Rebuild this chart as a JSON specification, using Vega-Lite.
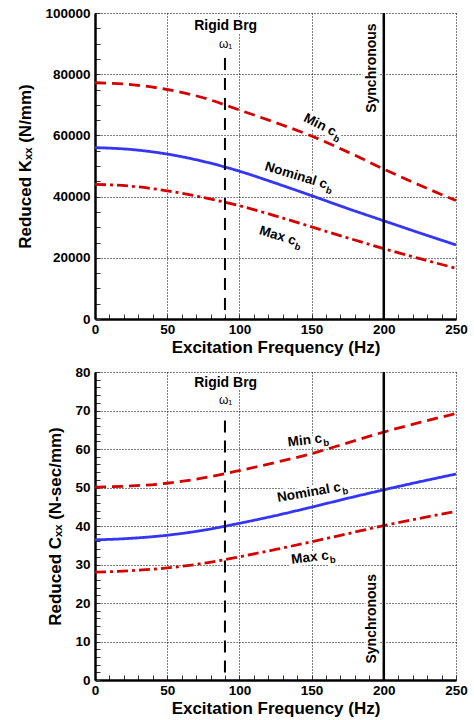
{
  "$schema": "https://vega.github.io/schema/vega-lite/v6.json",
  "background": "white",
  "padding": {"left": 16, "top": 6, "right": 8, "bottom": 5},
  "spacing": 9,
  "config": {
    "view": {"stroke": null},
    "font": "Liberation Sans",
    "axis": {
      "domainColor": "black", "domainWidth": 2.5,
      "gridColor": "black", "gridDash": [1, 2], "gridWidth": 1,
      "tickColor": "#333", "tickWidth": 1, "tickSize": -5,
      "labelFont": "Liberation Sans", "labelFontWeight": "bold", "labelFontSize": 13.5, "labelColor": "black",
      "titleFont": "Liberation Sans", "titleFontWeight": "bold", "titleFontSize": 17, "titleColor": "black",
      "labelFlush": false, "labelOverlap": false, "grid": true
    },
    "text": {"font": "Liberation Sans", "fontWeight": "bold", "color": "black"}
  },
  "datasets": {
    "k": [
      {"f": 0, "v": 77200, "s": "Min"}, {"f": 25, "v": 76600, "s": "Min"}, {"f": 50, "v": 75000, "s": "Min"}, {"f": 75, "v": 72300, "s": "Min"}, {"f": 100, "v": 68300, "s": "Min"}, {"f": 125, "v": 64200, "s": "Min"}, {"f": 150, "v": 59800, "s": "Min"}, {"f": 175, "v": 54600, "s": "Min"}, {"f": 200, "v": 49000, "s": "Min"}, {"f": 225, "v": 43700, "s": "Min"}, {"f": 250, "v": 38700, "s": "Min"},
      {"f": 0, "v": 56000, "s": "Nominal"}, {"f": 25, "v": 55400, "s": "Nominal"}, {"f": 50, "v": 53900, "s": "Nominal"}, {"f": 75, "v": 51500, "s": "Nominal"}, {"f": 100, "v": 48300, "s": "Nominal"}, {"f": 125, "v": 44400, "s": "Nominal"}, {"f": 150, "v": 40300, "s": "Nominal"}, {"f": 175, "v": 36100, "s": "Nominal"}, {"f": 200, "v": 32100, "s": "Nominal"}, {"f": 225, "v": 28100, "s": "Nominal"}, {"f": 250, "v": 24200, "s": "Nominal"},
      {"f": 0, "v": 44000, "s": "Max"}, {"f": 25, "v": 43400, "s": "Max"}, {"f": 50, "v": 41900, "s": "Max"}, {"f": 75, "v": 39700, "s": "Max"}, {"f": 100, "v": 37000, "s": "Max"}, {"f": 125, "v": 33700, "s": "Max"}, {"f": 150, "v": 30100, "s": "Max"}, {"f": 175, "v": 26500, "s": "Max"}, {"f": 200, "v": 23000, "s": "Max"}, {"f": 225, "v": 19700, "s": "Max"}, {"f": 250, "v": 16600, "s": "Max"}
    ],
    "c": [
      {"f": 0, "v": 50.1, "s": "Min"}, {"f": 25, "v": 50.4, "s": "Min"}, {"f": 50, "v": 51.1, "s": "Min"}, {"f": 75, "v": 52.5, "s": "Min"}, {"f": 100, "v": 54.4, "s": "Min"}, {"f": 125, "v": 56.5, "s": "Min"}, {"f": 150, "v": 58.8, "s": "Min"}, {"f": 175, "v": 61.6, "s": "Min"}, {"f": 200, "v": 64.4, "s": "Min"}, {"f": 225, "v": 66.9, "s": "Min"}, {"f": 250, "v": 69.2, "s": "Min"},
      {"f": 0, "v": 36.4, "s": "Nominal"}, {"f": 25, "v": 36.8, "s": "Nominal"}, {"f": 50, "v": 37.6, "s": "Nominal"}, {"f": 75, "v": 38.9, "s": "Nominal"}, {"f": 100, "v": 40.7, "s": "Nominal"}, {"f": 125, "v": 42.7, "s": "Nominal"}, {"f": 150, "v": 44.9, "s": "Nominal"}, {"f": 175, "v": 47.2, "s": "Nominal"}, {"f": 200, "v": 49.4, "s": "Nominal"}, {"f": 225, "v": 51.5, "s": "Nominal"}, {"f": 250, "v": 53.5, "s": "Nominal"},
      {"f": 0, "v": 28.0, "s": "Max"}, {"f": 25, "v": 28.4, "s": "Max"}, {"f": 50, "v": 29.1, "s": "Max"}, {"f": 75, "v": 30.3, "s": "Max"}, {"f": 100, "v": 32.0, "s": "Max"}, {"f": 125, "v": 33.9, "s": "Max"}, {"f": 150, "v": 35.9, "s": "Max"}, {"f": 175, "v": 38.0, "s": "Max"}, {"f": 200, "v": 40.1, "s": "Max"}, {"f": 225, "v": 42.0, "s": "Max"}, {"f": 250, "v": 43.8, "s": "Max"}
    ],
    "kplain": [{"f": 90.5, "v": 95750, "t": "Rigid Brg"}],
    "kw": [{"f": 90.5, "v": 89900, "t": "ω₁"}],
    "ksync": [{"f": 191.6, "v": 82000, "t": "Synchronous"}],
    "kmin": [{"f": 155.8, "v": 63400, "t": "Min c", "b": "b"}],
    "knom": [{"f": 139.2, "v": 46900, "t": "Nominal c", "b": "b"}],
    "kmax": [{"f": 126.5, "v": 27200, "t": "Max c", "b": "b"}],
    "cplain": [{"f": 90.5, "v": 77.1, "t": "Rigid Brg"}],
    "cw": [{"f": 90.5, "v": 72.8, "t": "ω₁"}],
    "csync": [{"f": 191.6, "v": 15.9, "t": "Synchronous"}],
    "cmin": [{"f": 145.4, "v": 62.2, "t": "Min c", "b": "b"}],
    "cnom": [{"f": 148.2, "v": 48.7, "t": "Nominal c", "b": "b"}],
    "cmax": [{"f": 148.9, "v": 31.8, "t": "Max c", "b": "b"}]
  },
  "vconcat": [
    {
      "width": 361, "height": 306,
      "encoding": {
        "x": {"field": "f", "type": "quantitative", "scale": {"domain": [0, 250], "nice": false, "zero": false},
          "axis": {"title": "Excitation Frequency (Hz)", "titlePadding": 4, "labelPadding": 8,
            "values": [0,10,20,30,40,50,60,70,80,90,100,110,120,130,140,150,160,170,180,190,200,210,220,230,240,250],
            "labelExpr": "datum.value % 50 === 0 ? datum.label : ''",
            "gridOpacity": {"condition": {"test": "datum.value % 50 === 0", "value": 1}, "value": 0}}},
        "y": {"field": "v", "type": "quantitative", "scale": {"domain": [0, 100000], "nice": false},
          "axis": {"title": "Reduced Kₓₓ (N/mm)", "titlePadding": 10, "labelPadding": 10, "format": "d",
            "values": [0,5000,10000,15000,20000,25000,30000,35000,40000,45000,50000,55000,60000,65000,70000,75000,80000,85000,90000,95000,100000],
            "labelExpr": "datum.value % 20000 === 0 ? datum.label : ''",
            "gridOpacity": {"condition": {"test": "datum.value % 20000 === 0", "value": 1}, "value": 0}}}
      },
      "layer": [
        {"data": {"name": "kplain"}, "mark": {"type": "text", "fontSize": 14, "baseline": "middle", "color": "white", "stroke": "white", "strokeWidth": 6}, "encoding": {"text": {"field": "t"}}},
        {"data": {"name": "kw"}, "mark": {"type": "text", "fontSize": 12, "fontWeight": "normal", "baseline": "middle", "color": "white", "stroke": "white", "strokeWidth": 6}, "encoding": {"text": {"field": "t"}}},
        {"data": {"name": "ksync"}, "mark": {"type": "text", "fontSize": 14, "angle": 270, "baseline": "middle", "color": "white", "stroke": "white", "strokeWidth": 5}, "encoding": {"text": {"field": "t"}}},
        {"data": {"name": "kmin"}, "layer": [
          {"mark": {"type": "text", "fontSize": 13.5, "angle": 27, "baseline": "middle", "color": "white", "stroke": "white", "strokeWidth": 6}, "encoding": {"text": {"field": "t"}}},
          {"mark": {"type": "text", "fontSize": 9.5, "angle": 27, "baseline": "middle", "align": "left", "dx": 18, "dy": 5, "color": "white", "stroke": "white", "strokeWidth": 6}, "encoding": {"text": {"field": "b"}}}]},
        {"data": {"name": "knom"}, "layer": [
          {"mark": {"type": "text", "fontSize": 13.5, "angle": 17, "baseline": "middle", "color": "white", "stroke": "white", "strokeWidth": 6}, "encoding": {"text": {"field": "t"}}},
          {"mark": {"type": "text", "fontSize": 9.5, "angle": 17, "baseline": "middle", "align": "left", "dx": 33, "dy": 5, "color": "white", "stroke": "white", "strokeWidth": 6}, "encoding": {"text": {"field": "b"}}}]},
        {"data": {"name": "kmax"}, "layer": [
          {"mark": {"type": "text", "fontSize": 13.5, "angle": 17, "baseline": "middle", "color": "white", "stroke": "white", "strokeWidth": 6}, "encoding": {"text": {"field": "t"}}},
          {"mark": {"type": "text", "fontSize": 9.5, "angle": 17, "baseline": "middle", "align": "left", "dx": 19.5, "dy": 5, "color": "white", "stroke": "white", "strokeWidth": 6}, "encoding": {"text": {"field": "b"}}}]},
        {
          "data": {"name": "k"},
          "mark": {"type": "line", "interpolate": "monotone", "strokeWidth": 2.8},
          "encoding": {
            "color": {"field": "s", "type": "nominal", "scale": {"domain": ["Min", "Nominal", "Max"], "range": ["#d40000", "#3535f5", "#d40000"]}, "legend": null},
            "strokeDash": {"field": "s", "type": "nominal", "scale": {"domain": ["Min", "Nominal", "Max"], "range": [[11, 6], [1, 0], [11, 4, 3, 4]]}, "legend": null}
          }
        },
        {
          "data": {"values": [{"f": 90, "v": 85300, "v2": 0}]},
          "mark": {"type": "rule", "color": "black", "strokeWidth": 2, "strokeDash": [12, 8]},
          "encoding": {"y2": {"field": "v2"}}
        },
        {
          "data": {"values": [{"f": 200, "v": 0, "v2": 100000}]},
          "mark": {"type": "rule", "color": "black", "strokeWidth": 2.5},
          "encoding": {"y2": {"field": "v2"}}
        },
        {"data": {"name": "kplain"}, "mark": {"type": "text", "fontSize": 14, "baseline": "middle"}, "encoding": {"text": {"field": "t"}}},
        {"data": {"name": "kw"}, "mark": {"type": "text", "fontSize": 12, "fontWeight": "normal", "baseline": "middle"}, "encoding": {"text": {"field": "t"}}},
        {"data": {"name": "ksync"}, "mark": {"type": "text", "fontSize": 14, "angle": 270, "baseline": "middle"}, "encoding": {"text": {"field": "t"}}},
        {"data": {"name": "kmin"}, "layer": [
          {"mark": {"type": "text", "fontSize": 13.5, "angle": 27, "baseline": "middle"}, "encoding": {"text": {"field": "t"}}},
          {"mark": {"type": "text", "fontSize": 9.5, "angle": 27, "baseline": "middle", "align": "left", "dx": 18, "dy": 5}, "encoding": {"text": {"field": "b"}}}]},
        {"data": {"name": "knom"}, "layer": [
          {"mark": {"type": "text", "fontSize": 13.5, "angle": 17, "baseline": "middle"}, "encoding": {"text": {"field": "t"}}},
          {"mark": {"type": "text", "fontSize": 9.5, "angle": 17, "baseline": "middle", "align": "left", "dx": 33, "dy": 5}, "encoding": {"text": {"field": "b"}}}]},
        {"data": {"name": "kmax"}, "layer": [
          {"mark": {"type": "text", "fontSize": 13.5, "angle": 17, "baseline": "middle"}, "encoding": {"text": {"field": "t"}}},
          {"mark": {"type": "text", "fontSize": 9.5, "angle": 17, "baseline": "middle", "align": "left", "dx": 19.5, "dy": 5}, "encoding": {"text": {"field": "b"}}}]}
      ]
    },
    {
      "width": 361, "height": 308,
      "encoding": {
        "x": {"field": "f", "type": "quantitative", "scale": {"domain": [0, 250], "nice": false, "zero": false},
          "axis": {"title": "Excitation Frequency (Hz)", "titlePadding": 4, "labelPadding": 8,
            "values": [0,10,20,30,40,50,60,70,80,90,100,110,120,130,140,150,160,170,180,190,200,210,220,230,240,250],
            "labelExpr": "datum.value % 50 === 0 ? datum.label : ''",
            "gridOpacity": {"condition": {"test": "datum.value % 50 === 0", "value": 1}, "value": 0}}},
        "y": {"field": "v", "type": "quantitative", "scale": {"domain": [0, 80], "nice": false},
          "axis": {"title": "Reduced Cₓₓ (N-sec/mm)", "titlePadding": 10, "labelPadding": 10, "format": "d",
            "values": [0,2,4,6,8,10,12,14,16,18,20,22,24,26,28,30,32,34,36,38,40,42,44,46,48,50,52,54,56,58,60,62,64,66,68,70,72,74,76,78,80],
            "labelExpr": "datum.value % 10 === 0 ? datum.label : ''",
            "gridOpacity": {"condition": {"test": "datum.value % 10 === 0", "value": 1}, "value": 0}}}
      },
      "layer": [
        {"data": {"name": "cplain"}, "mark": {"type": "text", "fontSize": 14, "baseline": "middle", "color": "white", "stroke": "white", "strokeWidth": 6}, "encoding": {"text": {"field": "t"}}},
        {"data": {"name": "cw"}, "mark": {"type": "text", "fontSize": 12, "fontWeight": "normal", "baseline": "middle", "color": "white", "stroke": "white", "strokeWidth": 6}, "encoding": {"text": {"field": "t"}}},
        {"data": {"name": "csync"}, "mark": {"type": "text", "fontSize": 14, "angle": 270, "baseline": "middle", "color": "white", "stroke": "white", "strokeWidth": 5}, "encoding": {"text": {"field": "t"}}},
        {"data": {"name": "cmin"}, "layer": [
          {"mark": {"type": "text", "fontSize": 13.5, "angle": -7, "baseline": "middle", "color": "white", "stroke": "white", "strokeWidth": 6}, "encoding": {"text": {"field": "t"}}},
          {"mark": {"type": "text", "fontSize": 9.5, "angle": -7, "baseline": "middle", "align": "left", "dx": 18, "dy": 5, "color": "white", "stroke": "white", "strokeWidth": 6}, "encoding": {"text": {"field": "b"}}}]},
        {"data": {"name": "cnom"}, "layer": [
          {"mark": {"type": "text", "fontSize": 13.5, "angle": -10, "baseline": "middle", "color": "white", "stroke": "white", "strokeWidth": 6}, "encoding": {"text": {"field": "t"}}},
          {"mark": {"type": "text", "fontSize": 9.5, "angle": -10, "baseline": "middle", "align": "left", "dx": 33, "dy": 5, "color": "white", "stroke": "white", "strokeWidth": 6}, "encoding": {"text": {"field": "b"}}}]},
        {"data": {"name": "cmax"}, "layer": [
          {"mark": {"type": "text", "fontSize": 13.5, "angle": -7, "baseline": "middle", "color": "white", "stroke": "white", "strokeWidth": 6}, "encoding": {"text": {"field": "t"}}},
          {"mark": {"type": "text", "fontSize": 9.5, "angle": -7, "baseline": "middle", "align": "left", "dx": 19.5, "dy": 5, "color": "white", "stroke": "white", "strokeWidth": 6}, "encoding": {"text": {"field": "b"}}}]},
        {
          "data": {"name": "c"},
          "mark": {"type": "line", "interpolate": "monotone", "strokeWidth": 2.8},
          "encoding": {
            "color": {"field": "s", "type": "nominal", "scale": {"domain": ["Min", "Nominal", "Max"], "range": ["#d40000", "#3535f5", "#d40000"]}, "legend": null},
            "strokeDash": {"field": "s", "type": "nominal", "scale": {"domain": ["Min", "Nominal", "Max"], "range": [[11, 6], [1, 0], [11, 4, 3, 4]]}, "legend": null}
          }
        },
        {
          "data": {"values": [{"f": 90, "v": 67.4, "v2": 0}]},
          "mark": {"type": "rule", "color": "black", "strokeWidth": 2, "strokeDash": [12, 8]},
          "encoding": {"y2": {"field": "v2"}}
        },
        {
          "data": {"values": [{"f": 200, "v": 0, "v2": 80}]},
          "mark": {"type": "rule", "color": "black", "strokeWidth": 2.5},
          "encoding": {"y2": {"field": "v2"}}
        },
        {"data": {"name": "cplain"}, "mark": {"type": "text", "fontSize": 14, "baseline": "middle"}, "encoding": {"text": {"field": "t"}}},
        {"data": {"name": "cw"}, "mark": {"type": "text", "fontSize": 12, "fontWeight": "normal", "baseline": "middle"}, "encoding": {"text": {"field": "t"}}},
        {"data": {"name": "csync"}, "mark": {"type": "text", "fontSize": 14, "angle": 270, "baseline": "middle"}, "encoding": {"text": {"field": "t"}}},
        {"data": {"name": "cmin"}, "layer": [
          {"mark": {"type": "text", "fontSize": 13.5, "angle": -7, "baseline": "middle"}, "encoding": {"text": {"field": "t"}}},
          {"mark": {"type": "text", "fontSize": 9.5, "angle": -7, "baseline": "middle", "align": "left", "dx": 18, "dy": 5}, "encoding": {"text": {"field": "b"}}}]},
        {"data": {"name": "cnom"}, "layer": [
          {"mark": {"type": "text", "fontSize": 13.5, "angle": -10, "baseline": "middle"}, "encoding": {"text": {"field": "t"}}},
          {"mark": {"type": "text", "fontSize": 9.5, "angle": -10, "baseline": "middle", "align": "left", "dx": 33, "dy": 5}, "encoding": {"text": {"field": "b"}}}]},
        {"data": {"name": "cmax"}, "layer": [
          {"mark": {"type": "text", "fontSize": 13.5, "angle": -7, "baseline": "middle"}, "encoding": {"text": {"field": "t"}}},
          {"mark": {"type": "text", "fontSize": 9.5, "angle": -7, "baseline": "middle", "align": "left", "dx": 19.5, "dy": 5}, "encoding": {"text": {"field": "b"}}}]}
      ]
    }
  ]
}
